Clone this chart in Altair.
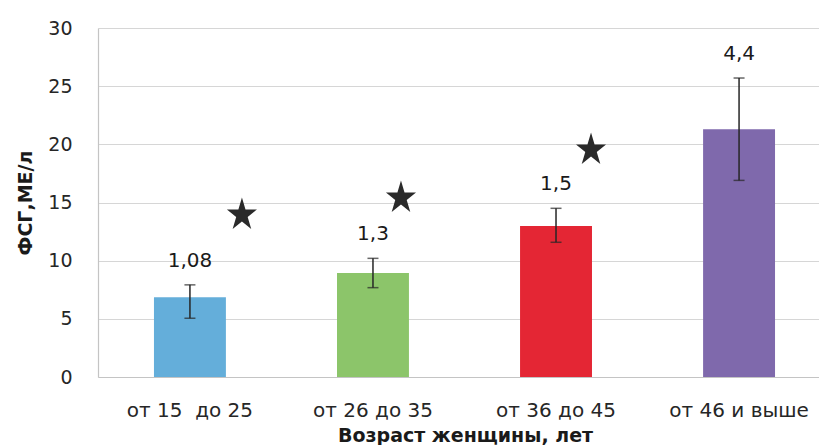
import altair as alt
import pandas as pd

# FSH level by age group: mean, error range, and SD label
groups = ["от 15\u00a0 до 25", "от 26 до 35", "от 36 до 45", "от 46 и выше"]
mean_fsh = [6.85, 8.94, 12.98, 21.3]
err_low = [5.05, 7.68, 11.58, 16.9]
err_high = [7.92, 10.2, 14.5, 25.7]
sd_labels = ["1,08", "1,3", "1,5", "4,4"]
colors = ["#64AEDA", "#8CC56A", "#E42634", "#7F69AC"]

# significance markers (first three groups)
star_groups = groups[:3]
star_level = [14.08, 15.54, 19.66]
star_shift = [52, 28, 35]

df = pd.DataFrame({
    "group": groups, "mean": mean_fsh, "lo": err_low, "hi": err_high,
    "sd": sd_labels, "color": colors,
})
stars = pd.DataFrame({"group": star_groups, "level": star_level})

FONT = "DejaVu Sans"

xscale = alt.Scale(domain=groups, paddingInner=0.607, paddingOuter=0.273, align=0.56)
yscale = alt.Scale(domain=[0, 30], nice=False)

x = alt.X("group:N", sort=groups, scale=xscale, title="Возраст женщины, лет",
          axis=alt.Axis(labelAngle=0, labelFontSize=20, labelColor="#262626",
                        labelFont=FONT, labelPadding=39, labelBaseline="alphabetic",
                        ticks=False, domainColor="#c4c4c4", domainWidth=1.2,
                        titleFont=FONT, titleFontSize=19, titleFontWeight="bold",
                        titleColor="#1a1a1a", titleX=367, titleY=64,
                        titleBaseline="alphabetic", titleAlign="center"))

y_axis = alt.Axis(values=[0, 5, 10, 15, 20, 25, 30], labelFontSize=19,
                  labelColor="#262626", labelFont=FONT, labelPadding=26,
                  ticks=False, domainColor="#c4c4c4", domainWidth=1.2,
                  gridColor="#d6d6d6", gridWidth=1.2,
                  title="ФСГ,МЕ/л", titleFont=FONT, titleFontSize=19,
                  titleFontWeight="bold", titleColor="#1a1a1a",
                  titleAngle=-90, titleX=-73, titleY=174.5,
                  titleAlign="center", titleBaseline="middle")

base = alt.Chart(df)
xb = alt.X("group:N", sort=groups, scale=xscale)

bars = base.mark_bar().encode(
    x=x,
    y=alt.Y("mean:Q", scale=yscale, axis=y_axis),
    color=alt.Color("color:N", scale=None),
)

whisker = base.mark_rule(color="#262626", strokeWidth=1.5).encode(
    x=xb, y=alt.Y("lo:Q", scale=yscale), y2="hi:Q",
)

caps_lo = base.mark_tick(color="#262626", size=11, thickness=1.5).encode(
    x=xb, y=alt.Y("lo:Q", scale=yscale),
)
caps_hi = base.mark_tick(color="#262626", size=11, thickness=1.5).encode(
    x=xb, y=alt.Y("hi:Q", scale=yscale),
)

labels = base.mark_text(font=FONT, fontSize=20, color="#1a1a1a",
                        baseline="middle", dy=-24).encode(
    x=xb, y=alt.Y("hi:Q", scale=yscale), text="sd:N",
)

STAR = ("M0,-0.995L0.2245,-0.235L0.951,-0.235L0.363,0.235L0.588,0.995"
        "L0,0.525L-0.588,0.995L-0.363,0.235L-0.951,-0.235L-0.2245,-0.235Z")

star_layers = []
for i, g in enumerate(star_groups):
    star_layers.append(
        alt.Chart(stars.iloc[[i]]).mark_point(
            shape=STAR, size=1000, filled=True, opacity=1,
            color="#2a2a2a", xOffset=star_shift[i],
        ).encode(x=xb, y=alt.Y("level:Q", scale=yscale))
    )

chart = alt.layer(bars, whisker, caps_lo, caps_hi, labels, *star_layers).properties(
    width=721, height=349,
    padding={"left": 98, "top": 28, "right": 0, "bottom": 68},
    autosize=alt.AutoSizeParams(type="none"),
    background="white",
).configure_view(stroke=None)

chart.save("out.html", embed_options={"renderer": "svg", "actions": False})
